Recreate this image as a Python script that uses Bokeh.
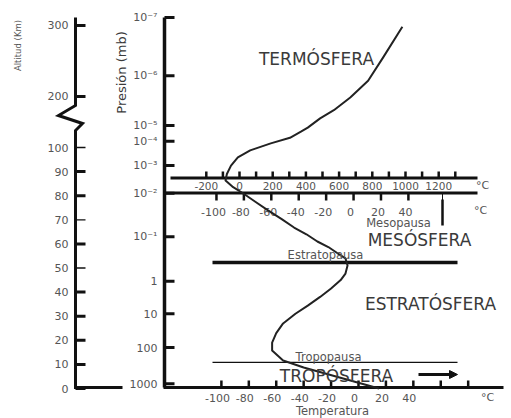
import math
from bokeh.plotting import figure
from bokeh.models import Range1d, Arrow, NormalHead
from bokeh.core.properties import value
from bokeh.embed import file_html
from bokeh.resources import INLINE

# ------------------------------------------------------------------ data
ALT_TICKS_KM = [0, 10, 20, 30, 40, 50, 60, 70, 80, 90, 100, 200, 300]
ALT_TICK_LABELS = ["0", "10", "20", "30", "40", "50", "60", "70", "80", "90", "100", "200", "300"]

PRESSURE_LABELS = ["1000", "100", "10", "1", "10⁻¹", "10⁻²", "10⁻³", "10⁻⁴", "10⁻⁵", "10⁻⁶", "10⁻⁷"]
PRESSURE_ALT_KM = [2, 17, 31, 44.5, 63, 81, 92.5, 112, 143, 229, 311]

TEMP_TICKS_C = [-100, -80, -60, -40, -20, 0, 20, 40, 60, 80]
TEMP_TICK_LABELS = ["-100", "-80", "-60", "-40", "-20", "0", "20", "40", "", ""]

MESO_TICKS_C = [-100, -80, -60, -40, -20, 0, 20, 40]
MESO_TICK_LABELS = ["-100", "-80", "-60", "-40", "-20", "0", "20", "40"]

THERMO_TICKS_C = [-200, -100, 0, 100, 200, 300, 400, 500, 600, 700, 800, 900, 1000, 1100, 1200, 1300]
THERMO_LABEL_C = [-200, 0, 200, 400, 600, 800, 1000, 1200]
THERMO_LABELS = ["-200", "0", "200", "400", "600", "800", "1000", "1200"]

CURVE_TEMP_C = [15, -40, -55, -63, -63, -60, -55, -46, -37, -28,
                -20, -13, -9.5, -8, -9.5, -15, -22, -30, -38, -47,
                -56, -66, -75, -84, -92, -97, -96, -93, -88, -79,
                -64, -50, -42, -37, -28, -18, -6, 7, 18, 32]
CURVE_ALT_KM = [0, 8.7, 11.6, 15.8, 19, 23, 27, 31, 34.4, 38,
                41.5, 45, 47.7, 51, 54, 56, 58.7, 61, 64, 66.8,
                70.3, 73.9, 77.4, 80.9, 83.8, 86.3, 89, 92.5, 95.9, 98.8,
                108, 119, 131, 139, 157, 173, 198, 222, 255, 298]

TROPOPAUSE_KM = 10.8
STRATOPAUSE_KM = 52.3

LAYER_NAMES = ["TERMÓSFERA", "MESÓSFERA", "ESTRATÓSFERA", "TROPÓSFERA"]
PAUSE_NAMES = ["Mesopausa", "Estratopausa", "Tropopausa"]

# ------------------------------------------------------------------ scales
# diagram coordinates: x in degrees C of the lower temperature scale,
# y in "diagram km" (linear up to 100 km, then a broken, compressed scale)
def X(px):
    return (px - 358.0) / 1.371


def Y(py):
    return (388.0 - py) / 2.41


def alt_y(km):
    if km <= 100:
        return km
    if km >= 200:
        return 121.2 + (km - 200) * 0.2946
    return 100 + (km - 100) * 0.212


def thermo_x(t):
    return X(239.0 + 0.166 * t)


MESO_SHIFT = -3.6

FONT = value("DejaVu Sans")
INK = "#111111"
LBL = "#555555"
BIG = "#3a3a3a"

p = figure(width=511, height=418,
           x_range=Range1d(X(0), X(511)), y_range=Range1d(Y(418), Y(0)),
           output_backend="svg", toolbar_location=None, min_border=0,
           x_axis_location=None, y_axis_location=None)
p.grid.grid_line_color = None
p.outline_line_color = None
p.background_fill_color = "white"
p.border_fill_color = "white"

# ------------------------------------------------------------------ altitude axis (with break)
ax_x = [75, 75, 58, 82, 75, 75, 122]
ax_y = [17, 105, 115, 123, 130, 387, 387]
p.line([X(v) for v in ax_x], [Y(v) for v in ax_y], line_width=3, line_color=INK, line_join="miter")

alt_ys = [alt_y(k) for k in ALT_TICKS_KM]
thin = {50, 70, 100}
p.segment(x0=[X(75)] * len(alt_ys), y0=alt_ys, x1=[X(85)] * len(alt_ys), y1=alt_ys,
          line_width=[1.3 if k in thin else 3 for k in ALT_TICKS_KM], line_color=INK)
p.text(x=[X(68)] * len(alt_ys), y=alt_ys, text=ALT_TICK_LABELS, text_font=FONT,
       text_font_size="11px", text_align="right", text_baseline="middle", text_color=LBL)
p.text(x=[X(17)], y=[Y(45)], text=["Altitud (Km)"], angle=math.pi / 2, text_font=FONT,
       text_font_size="8.5px", text_align="center", text_baseline="middle", text_color=LBL)

# ------------------------------------------------------------------ pressure axis
p.line([X(164), X(164)], [Y(17), Y(387)], line_width=3.5, line_color=INK)
pr_ys = [alt_y(k) for k in PRESSURE_ALT_KM]
p.segment(x0=[X(164)] * len(pr_ys), y0=pr_ys, x1=[X(174)] * len(pr_ys), y1=pr_ys,
          line_width=3, line_color=INK)
p.text(x=[X(157)] * len(pr_ys), y=pr_ys, text=PRESSURE_LABELS, text_font=FONT,
       text_font_size="11px", text_align="right", text_baseline="middle", text_color=LBL)
p.text(x=[X(121)], y=[Y(72)], text=["Presión (mb)"], angle=math.pi / 2, text_font=FONT,
       text_font_size="13px", text_align="center", text_baseline="middle", text_color=BIG)

# ------------------------------------------------------------------ bottom temperature axis
p.line([X(163), X(503)], [Y(387), Y(387)], line_width=3, line_color=INK)
bt_y0 = Y(387)
p.segment(x0=TEMP_TICKS_C, y0=[bt_y0] * len(TEMP_TICKS_C), x1=TEMP_TICKS_C,
          y1=[Y(380)] * len(TEMP_TICKS_C), line_width=2.5, line_color=INK)
p.text(x=TEMP_TICKS_C, y=[Y(397)] * len(TEMP_TICKS_C), text=TEMP_TICK_LABELS, text_font=FONT,
       text_font_size="11px", text_align="center", text_baseline="middle", text_color=LBL,
       x_offset=-4)
p.text(x=[X(487)], y=[Y(397)], text=["°C"], text_font=FONT, text_font_size="11px",
       text_align="center", text_baseline="middle", text_color=LBL)
p.text(x=[X(332)], y=[Y(410.5)], text=["Temperatura"], text_font=FONT, text_font_size="11.5px",
       text_align="center", text_baseline="middle", text_color=LBL)

# ------------------------------------------------------------------ mesopause double scale
p.line([X(170), X(477)], [Y(177.5), Y(177.5)], line_width=3, line_color=INK)
p.line([X(163), X(477)], [Y(192.5), Y(192.5)], line_width=3, line_color=INK)

th_x = [thermo_x(t) for t in THERMO_TICKS_C]
p.segment(x0=th_x, y0=[Y(177.5)] * len(th_x), x1=th_x, y1=[Y(171)] * len(th_x),
          line_width=2.5, line_color=INK)
p.text(x=[thermo_x(t) for t in THERMO_LABEL_C], y=[Y(185.5)] * len(THERMO_LABEL_C),
       text=THERMO_LABELS, text_font=FONT, text_font_size="10.5px", text_align="center",
       text_baseline="middle", text_color=LBL)
p.text(x=[X(482)], y=[Y(185)], text=["°C"], text_font=FONT, text_font_size="11px",
       text_align="center", text_baseline="middle", text_color=LBL)

ms_x = [t + MESO_SHIFT for t in MESO_TICKS_C]
p.segment(x0=ms_x, y0=[Y(192.5)] * len(ms_x), x1=ms_x, y1=[Y(200)] * len(ms_x),
          line_width=2.5, line_color=INK)
p.text(x=ms_x, y=[Y(211)] * len(ms_x), text=MESO_TICK_LABELS, text_font=FONT,
       text_font_size="11px", text_align="center", text_baseline="middle", text_color=LBL,
       x_offset=-3)
p.text(x=[X(480)], y=[Y(210)], text=["°C"], text_font=FONT, text_font_size="11px",
       text_align="center", text_baseline="middle", text_color=LBL)

# mesopause pointer
p.segment(x0=[X(442)], y0=[Y(192.5)], x1=[X(442)], y1=[Y(200)], line_width=1, line_color=INK)
p.segment(x0=[X(442)], y0=[Y(199)], x1=[X(442)], y1=[Y(225)], line_width=2.5, line_color=INK)

# ------------------------------------------------------------------ pauses
p.segment(x0=[X(212)], y0=[alt_y(STRATOPAUSE_KM)], x1=[X(457)], y1=[alt_y(STRATOPAUSE_KM)],
          line_width=3.5, line_color=INK)
p.segment(x0=[X(212)], y0=[alt_y(TROPOPAUSE_KM)], x1=[X(457)], y1=[alt_y(TROPOPAUSE_KM)],
          line_width=1.3, line_color=INK)

# ------------------------------------------------------------------ temperature profile
p.line(CURVE_TEMP_C, [alt_y(k) for k in CURVE_ALT_KM], line_width=2,
       line_color="#222222", line_join="round")

# ------------------------------------------------------------------ labels
p.text(x=[X(316), X(419), X(430), X(336)], y=[Y(58), Y(239), Y(303), Y(375)],
       text=LAYER_NAMES, text_font=FONT, text_font_size="17px", text_align="center",
       text_baseline="middle", text_color=BIG)
p.text(x=[X(398), X(325), X(328)], y=[Y(222), Y(254), Y(356)], text=PAUSE_NAMES,
       text_font=FONT, text_font_size="11.5px", text_align="center", text_baseline="middle",
       text_color=LBL)

p.add_layout(Arrow(x_start=X(418), y_start=Y(374), x_end=X(457), y_end=Y(374),
                   line_width=3, line_color=INK,
                   end=NormalHead(size=8, fill_color=INK, line_color=INK)))

open("out.html", "w").write(file_html(p, INLINE))
